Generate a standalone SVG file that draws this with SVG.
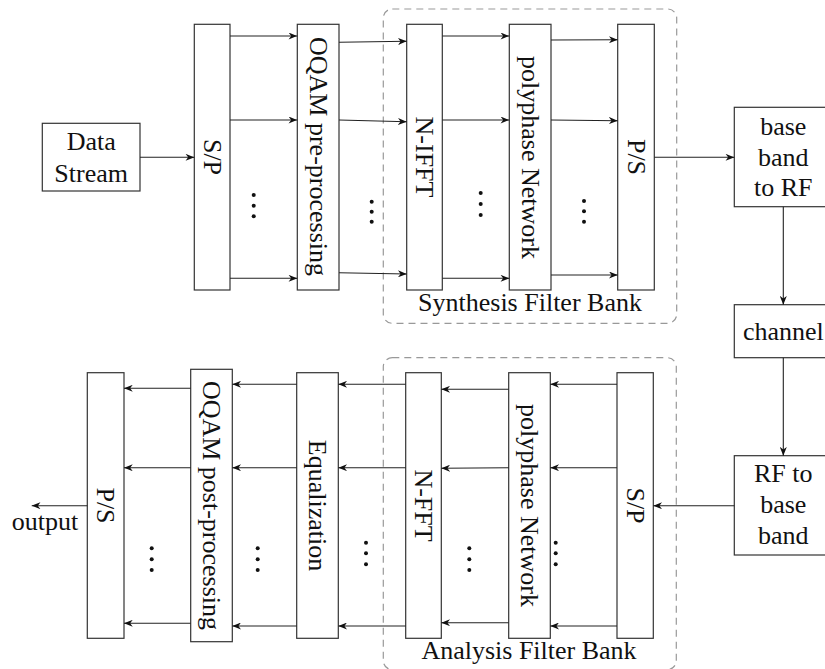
<svg xmlns="http://www.w3.org/2000/svg" width="825" height="669" viewBox="0 0 825 669">
<defs>
<marker id="ah" viewBox="0 0 10 8" refX="10" refY="4" markerWidth="9" markerHeight="7" markerUnits="userSpaceOnUse" orient="auto">
<path d="M0,0 L10,4 L0,8 L3,4 Z" fill="#111"/>
</marker>
</defs>
<style>
.box{fill:#fff;stroke:#333;stroke-width:1.2}
.lbl{font-family:"Liberation Serif","Times New Roman",serif;font-size:26px;fill:#111}
.rot{text-anchor:middle;dominant-baseline:central}
.mid{text-anchor:middle}
.fb{fill:none;stroke:#999;stroke-width:1.2;stroke-dasharray:7,5}
.c{fill:none;stroke:#222;stroke-width:1.1;marker-end:url(#ah)}
.dot{fill:#111}
</style>
<rect width="825" height="669" fill="#fff"/>

<g id="synthesis-filter-bank">
<rect class="fb" x="383.3" y="9" width="293.4" height="314.3" rx="9"/>
<text class="lbl mid" x="530" y="310.5">Synthesis Filter Bank</text>
</g>
<g id="analysis-filter-bank">
<rect class="fb" x="383.3" y="357.7" width="293" height="312" rx="9"/>
<text class="lbl mid" x="529" y="659">Analysis Filter Bank</text>
</g>

<g id="data-stream">
<rect class="box" x="42.3" y="123.3" width="97.7" height="67.7"/>
<text class="lbl mid" x="91.2" y="150">Data</text>
<text class="lbl mid" x="91.2" y="181.5">Stream</text>
</g>
<g id="sp-tx">
<rect class="box" x="194.3" y="24.3" width="35.7" height="265.7"/>
<text class="lbl rot" transform="translate(212.2,157) rotate(90)">S/P</text>
</g>
<g id="oqam-pre">
<rect class="box" x="297.3" y="24.3" width="41.7" height="265.7"/>
<text class="lbl rot" transform="translate(318.2,156.5) rotate(90)">OQAM pre-processing</text>
</g>
<g id="n-ifft">
<rect class="box" x="406.7" y="24.3" width="35.6" height="265.7"/>
<text class="lbl rot" transform="translate(424.5,157) rotate(90)">N-IFFT</text>
</g>
<g id="polyphase-tx">
<rect class="box" x="509.3" y="24.3" width="41.7" height="265.7"/>
<text class="lbl rot" transform="translate(530.2,157.5) rotate(90)">polyphase Network</text>
</g>
<g id="ps-tx">
<rect class="box" x="617.7" y="24.3" width="36.6" height="265.7"/>
<text class="lbl rot" transform="translate(636,157) rotate(90)">P/S</text>
</g>
<g id="baseband-to-rf">
<rect class="box" x="734.3" y="107.3" width="98" height="99.4"/>
<text class="lbl mid" x="783.3" y="135">base</text>
<text class="lbl mid" x="783.3" y="166">band</text>
<text class="lbl mid" x="783.3" y="196">to RF</text>
</g>
<g id="channel">
<rect class="box" x="734.3" y="304.7" width="98" height="53"/>
<text class="lbl mid" x="783.3" y="340">channel</text>
</g>
<g id="rf-to-baseband">
<rect class="box" x="734.3" y="455.7" width="98" height="99.3"/>
<text class="lbl mid" x="783.3" y="482">RF to</text>
<text class="lbl mid" x="783.3" y="513">base</text>
<text class="lbl mid" x="783.3" y="543.5">band</text>
</g>
<g id="sp-rx">
<rect class="box" x="617" y="372.7" width="36.3" height="265.6"/>
<text class="lbl rot" transform="translate(635.2,505.5) rotate(90)">S/P</text>
</g>
<g id="polyphase-rx">
<rect class="box" x="508.7" y="372.7" width="41.6" height="265.6"/>
<text class="lbl rot" transform="translate(529.5,505.5) rotate(90)">polyphase Network</text>
</g>
<g id="n-fft">
<rect class="box" x="405.7" y="372.7" width="35.6" height="265.6"/>
<text class="lbl rot" transform="translate(423.5,505.5) rotate(90)">N-FFT</text>
</g>
<g id="equalization">
<rect class="box" x="296.7" y="372.7" width="41.6" height="265.6"/>
<text class="lbl rot" transform="translate(317.5,505.5) rotate(90)">Equalization</text>
</g>
<g id="oqam-post">
<rect class="box" x="190.7" y="369.3" width="41.6" height="272.4"/>
<text class="lbl rot" transform="translate(211.5,505.5) rotate(90)">OQAM post-processing</text>
</g>
<g id="ps-rx">
<rect class="box" x="87.3" y="372.7" width="36.7" height="265.6"/>
<text class="lbl rot" transform="translate(105.7,505.5) rotate(90)">P/S</text>
</g>
<g id="output">
<text class="lbl mid" x="45" y="530">output</text>
</g>

<g id="dots">
<circle class="dot" cx="253.7" cy="195" r="2"/><circle class="dot" cx="253.7" cy="205.7" r="2"/><circle class="dot" cx="253.7" cy="216.3" r="2"/>
<circle class="dot" cx="371.7" cy="201.7" r="2"/><circle class="dot" cx="371.7" cy="211.7" r="2"/><circle class="dot" cx="371.7" cy="221.7" r="2"/>
<circle class="dot" cx="480.7" cy="193" r="2"/><circle class="dot" cx="480.7" cy="204" r="2"/><circle class="dot" cx="480.7" cy="215" r="2"/>
<circle class="dot" cx="584" cy="201" r="2"/><circle class="dot" cx="584" cy="211.3" r="2"/><circle class="dot" cx="584" cy="221.7" r="2"/>
<circle class="dot" cx="151.7" cy="548.3" r="2"/><circle class="dot" cx="151.7" cy="559.3" r="2"/><circle class="dot" cx="151.7" cy="570" r="2"/>
<circle class="dot" cx="257.7" cy="548.3" r="2"/><circle class="dot" cx="257.7" cy="559.3" r="2"/><circle class="dot" cx="257.7" cy="570" r="2"/>
<circle class="dot" cx="366" cy="542.7" r="2"/><circle class="dot" cx="366" cy="553.3" r="2"/><circle class="dot" cx="366" cy="564.3" r="2"/>
<circle class="dot" cx="469.3" cy="548.3" r="2"/><circle class="dot" cx="469.3" cy="559.3" r="2"/><circle class="dot" cx="469.3" cy="570" r="2"/>
<circle class="dot" cx="555.7" cy="542.7" r="2"/><circle class="dot" cx="555.7" cy="553.3" r="2"/><circle class="dot" cx="555.7" cy="564.3" r="2"/>
</g>

<g id="connectors">
<path class="c" d="M140,157.3 H194.3"/>
<path class="c" d="M230,36 H297.3"/>
<path class="c" d="M230,120 H297.3"/>
<path class="c" d="M230,278.3 H297.3"/>
<path class="c" d="M339,42.3 L406.7,41.3"/>
<path class="c" d="M339,120 L406.7,121.7"/>
<path class="c" d="M339,272.7 L406.7,274"/>
<path class="c" d="M442.3,36 H509.3"/>
<path class="c" d="M442.3,120 H509.3"/>
<path class="c" d="M442.3,278.3 H509.3"/>
<path class="c" d="M551,40 L617.7,39.7"/>
<path class="c" d="M551,120 L617.7,120.7"/>
<path class="c" d="M551,275 H617.7"/>
<path class="c" d="M654.3,157.3 H734.3"/>
<path class="c" d="M783.3,206.7 V304.7"/>
<path class="c" d="M783.3,357.7 V455.7"/>
<path class="c" d="M734.3,505.7 H653.3"/>
<path class="c" d="M617,384.3 H550.3"/>
<path class="c" d="M617,467.7 H550.3"/>
<path class="c" d="M617,626 H550.3"/>
<path class="c" d="M508.7,389.3 H441.3"/>
<path class="c" d="M508.7,467.7 L441.3,468.3"/>
<path class="c" d="M508.7,622.7 H441.3"/>
<path class="c" d="M405.7,384.3 H338.3"/>
<path class="c" d="M405.7,467.7 H338.3"/>
<path class="c" d="M405.7,626 H338.3"/>
<path class="c" d="M296.7,384.3 H232.3"/>
<path class="c" d="M296.7,467.7 H232.3"/>
<path class="c" d="M296.7,626 H232.3"/>
<path class="c" d="M190.7,388.3 H124"/>
<path class="c" d="M190.7,467.7 H124"/>
<path class="c" d="M190.7,623.3 H124"/>
<path class="c" d="M87.3,505.7 H31.7"/>
</g>
</svg>
